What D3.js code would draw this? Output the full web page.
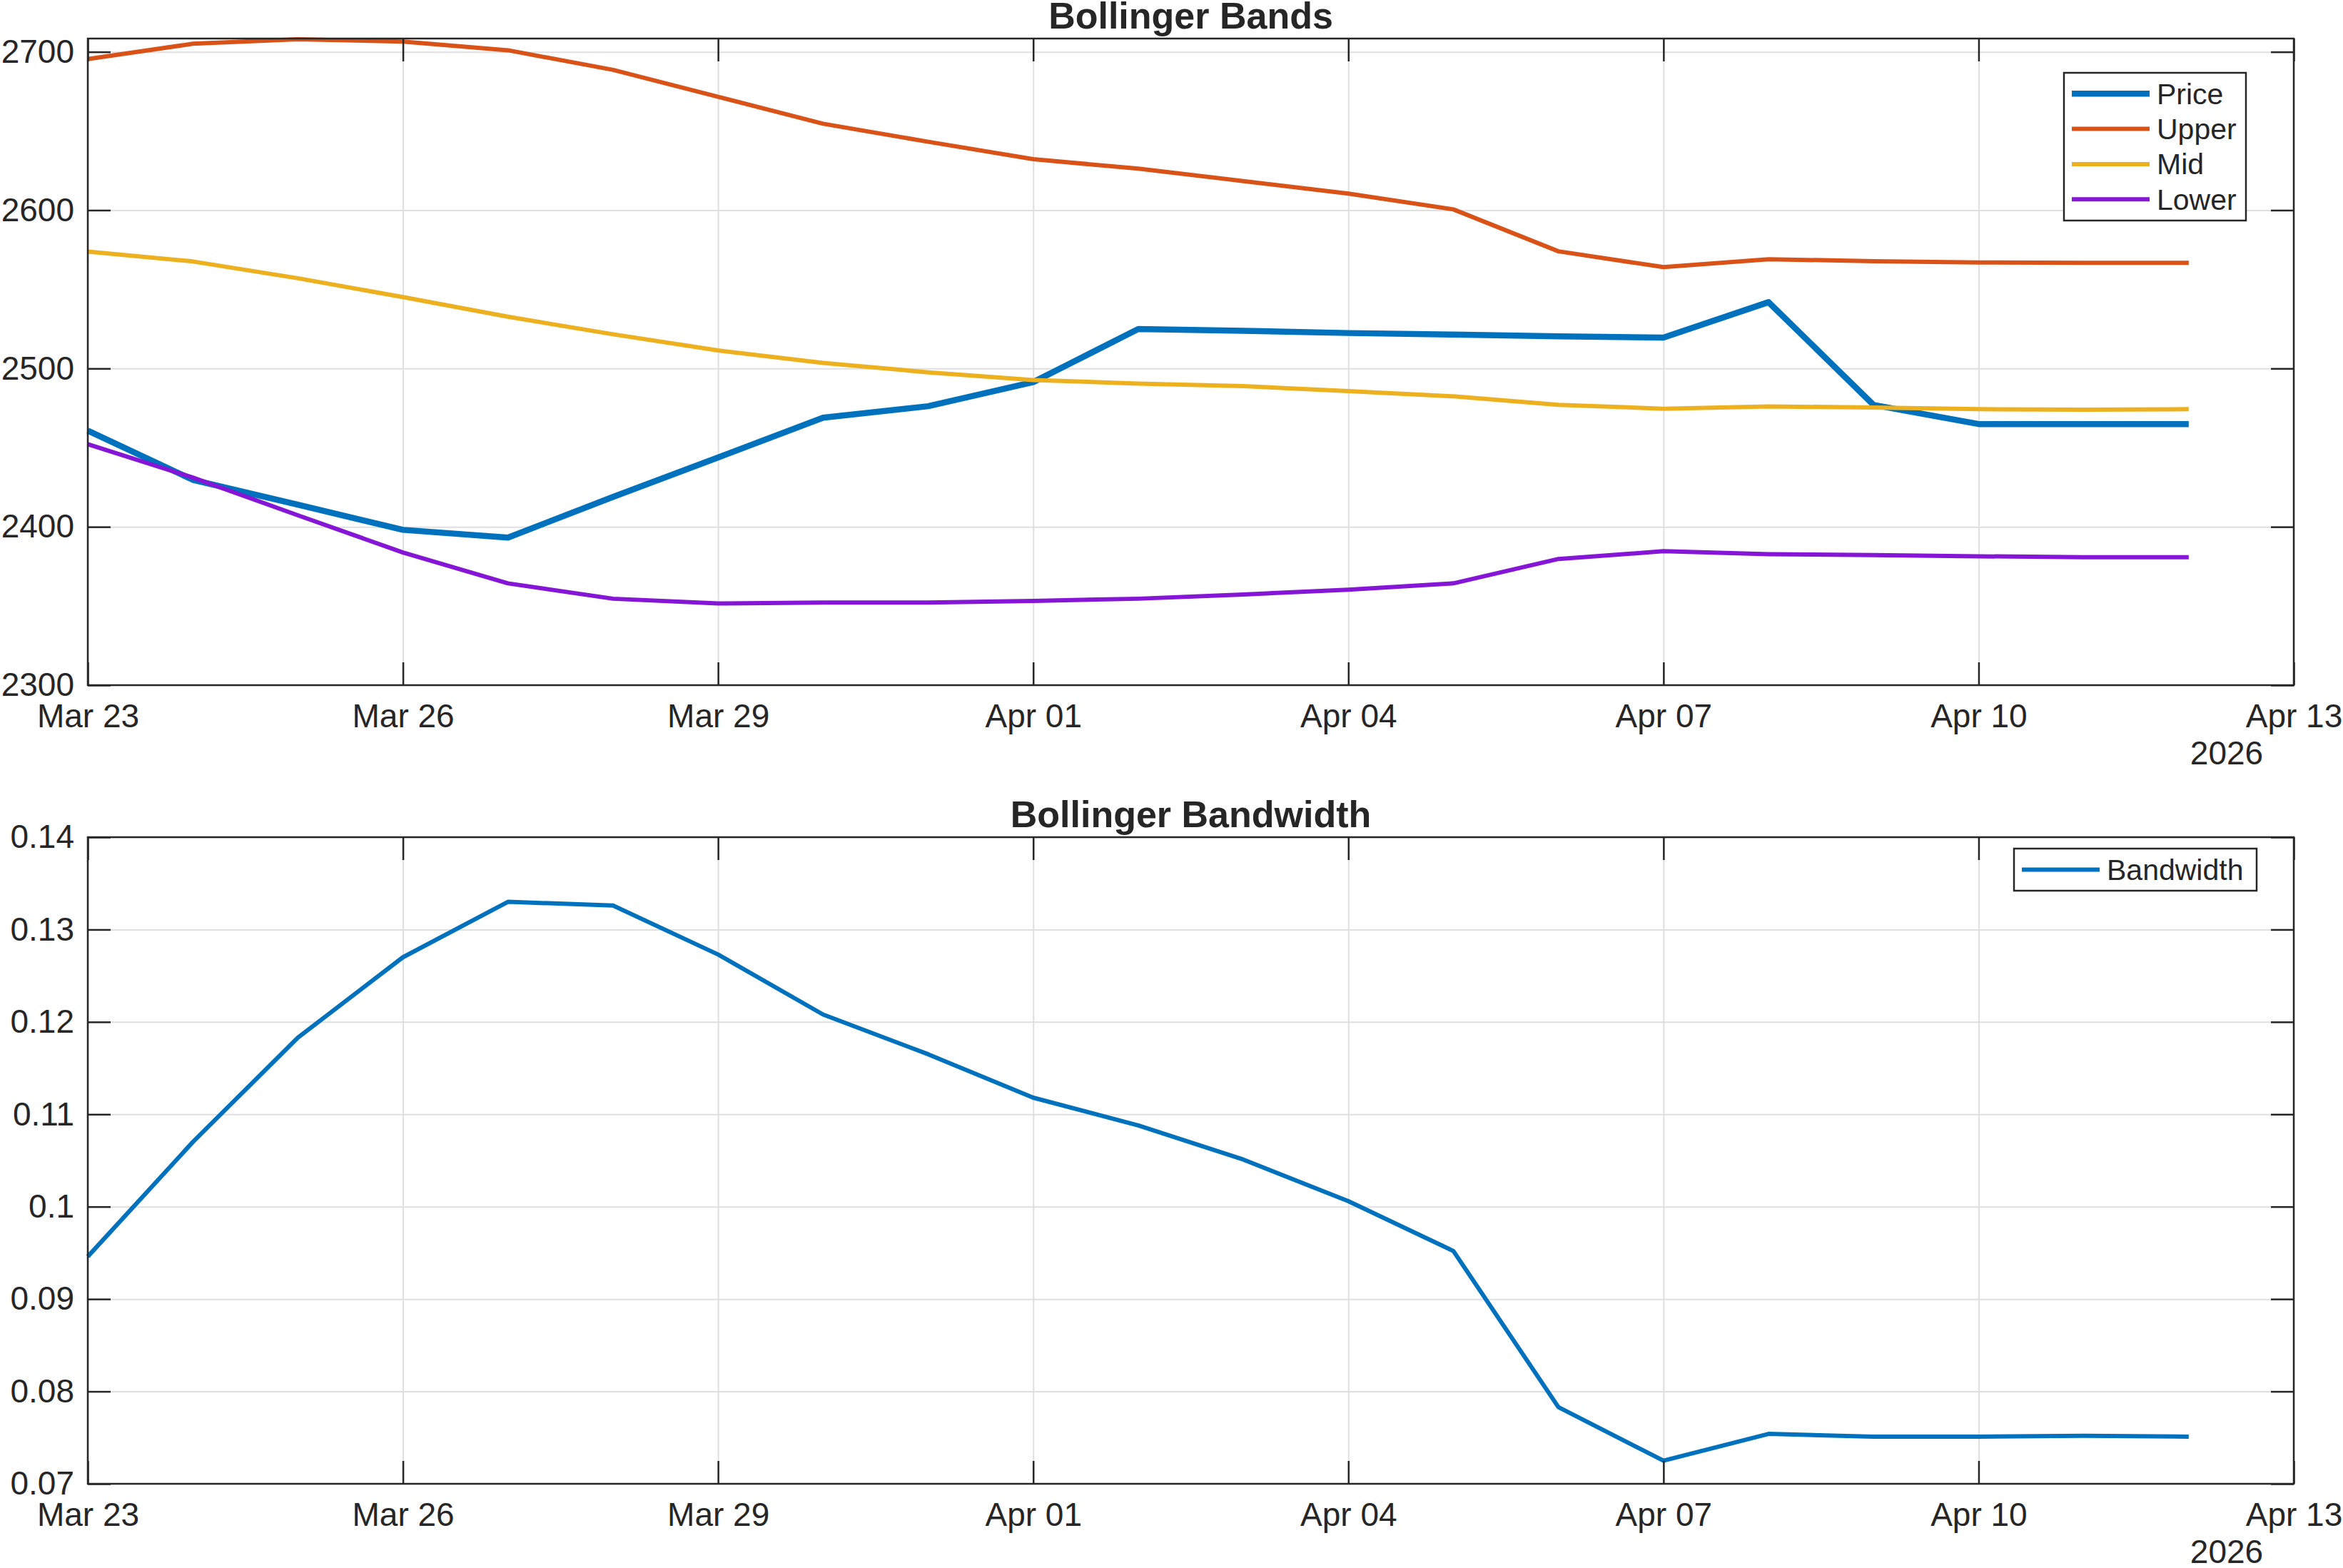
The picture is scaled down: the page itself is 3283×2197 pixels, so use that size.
<!DOCTYPE html>
<html>
<head>
<meta charset="utf-8">
<script src="https://cdn.jsdelivr.net/npm/d3@7"></script>
<style>
  body { margin: 0; background: #fff; }
  text { font-family: 'Liberation Sans', Arial, Helvetica, sans-serif; fill: #262626; }
</style>
</head>
<body>
<svg id="chart" width="3283" height="2197"></svg>
<script>
// daily closes, Mar 23 .. Apr 12 2026
const dates = [
    '2026-03-23', '2026-03-24', '2026-03-25', '2026-03-26', '2026-03-27', '2026-03-28', '2026-03-29',
    '2026-03-30', '2026-03-31', '2026-04-01', '2026-04-02', '2026-04-03', '2026-04-04', '2026-04-05',
    '2026-04-06', '2026-04-07', '2026-04-08', '2026-04-09', '2026-04-10', '2026-04-11', '2026-04-12'
]
const price = [
    2460.8, 2429.7, 2414.0, 2398.1, 2393.2, 2418.9, 2443.8,
    2468.9, 2476.2, 2491.4, 2524.9, 2523.8, 2522.4, 2521.4,
    2520.3, 2519.5, 2541.9, 2477.0, 2464.9, 2464.9, 2464.9
]
const upper = [
    2695.4, 2705.1, 2708.0, 2706.5, 2701.0, 2688.6, 2671.6,
    2654.6, 2643.2, 2632.2, 2626.2, 2618.4, 2610.5, 2600.5,
    2574.0, 2564.0, 2569.0, 2567.8, 2567.0, 2566.8, 2566.8
]
const mid = [
    2573.8, 2567.6, 2557.0, 2545.1, 2532.7, 2521.6, 2511.4,
    2503.5, 2497.6, 2492.7, 2490.5, 2488.9, 2485.7, 2482.4,
    2477.0, 2474.6, 2476.0, 2475.4, 2474.3, 2474.0, 2474.3
]
const lower = [
    2452.2, 2431.1, 2407.3, 2383.8, 2364.3, 2354.6, 2351.6,
    2352.2, 2352.2, 2353.2, 2354.6, 2357.3, 2360.3, 2364.3,
    2379.7, 2384.6, 2382.7, 2382.2, 2381.4, 2380.8, 2380.8
]
const bandwidth = [
    0.0946, 0.1070, 0.1183, 0.1270, 0.1330, 0.1326, 0.1273,
    0.1208, 0.1165, 0.1118, 0.1088, 0.1051, 0.1006, 0.0952,
    0.0783, 0.0725, 0.0754, 0.0751, 0.0751, 0.0752, 0.0751
]

const xTicks = ['2026-03-23', '2026-03-26', '2026-03-29', '2026-04-01', '2026-04-04', '2026-04-07', '2026-04-10', '2026-04-13']
const bandTicks = [2300, 2400, 2500, 2600, 2700]
const bandLimits = [2300, 2708.4]
const bwTicks = [0.07, 0.08, 0.09, 0.1, 0.11, 0.12, 0.13, 0.14]
const bwLimits = [0.07, 0.14]

const parse = d3.utcParse('%Y-%m-%d')
const days = dates.map(parse)

let svg = d3.select('#chart')
svg.append('rect').attr('width', 3283).attr('height', 2197).attr('fill', '#fff')

let left = 123, right = 3214
let x = d3.scaleUtc()
    .domain([parse(xTicks[0]), parse(xTicks[xTicks.length - 1])])
    .range([left, right])

function panel(top, bottom, yDomain, yTicks, title, series, legend) {
    let y = d3.scaleLinear().domain(yDomain).range([bottom, top])
    let g = svg.append('g')
    let h = bottom - top, w = right - left

    // grid
    g.append('g')
        .attr('transform', 'translate(0,' + bottom + ')')
        .call(d3.axisBottom(x).tickValues(xTicks.map(parse)).tickSize(-h).tickFormat(''))
        .call(a => a.select('.domain').remove())
        .selectAll('line').attr('stroke', '#dfdfdf').attr('stroke-width', 2)
    g.append('g')
        .attr('transform', 'translate(' + left + ',0)')
        .call(d3.axisLeft(y).tickValues(yTicks).tickSize(-w).tickFormat(''))
        .call(a => a.select('.domain').remove())
        .selectAll('line').attr('stroke', '#dfdfdf').attr('stroke-width', 2)

    // data lines
    series.forEach(s => {
        g.append('path')
            .datum(s.values)
            .attr('fill', 'none')
            .attr('stroke', s.color)
            .attr('stroke-width', s.width)
            .attr('stroke-linejoin', 'round')
            .attr('d', d3.line().x((d, i) => x(days[i])).y(d => y(d)))
    })

    // axes with inward ticks on all four sides
    g.append('g')
        .attr('class', 'axis')
        .attr('transform', 'translate(0,' + bottom + ')')
        .call(d3.axisBottom(x).tickValues(xTicks.map(parse)).tickSize(-32).tickPadding(26)
            .tickFormat(d3.utcFormat('%b %d')))
    g.append('g')
        .attr('class', 'axis')
        .attr('transform', 'translate(0,' + top + ')')
        .call(d3.axisTop(x).tickValues(xTicks.map(parse)).tickSize(-32).tickFormat(''))
    g.append('g')
        .attr('class', 'axis')
        .attr('transform', 'translate(' + left + ',0)')
        .call(d3.axisLeft(y).tickValues(yTicks).tickSize(-32).tickPadding(19)
            .tickFormat(d3.format('~g')))
    g.append('g')
        .attr('class', 'axis')
        .attr('transform', 'translate(' + right + ',0)')
        .call(d3.axisRight(y).tickValues(yTicks).tickSize(-32).tickFormat(''))

    g.selectAll('.axis .domain').remove()
    g.selectAll('.axis line').attr('stroke', '#262626').attr('stroke-width', 2.5)
    g.selectAll('.axis text')
        .attr('fill', '#262626')
        .style('font-size', '46px')
        .style('font-family', "'Liberation Sans', Arial, sans-serif")

    g.append('rect')
        .attr('x', left).attr('y', top)
        .attr('width', w).attr('height', h)
        .attr('fill', 'none')
        .attr('stroke', '#262626')
        .attr('stroke-width', 2.5)

    g.append('text')
        .attr('x', 3120)
        .attr('y', bottom + 111)
        .attr('text-anchor', 'middle')
        .style('font-size', '46px')
        .text('2026')

    g.append('text')
        .attr('x', (left + right) / 2)
        .attr('y', top - 14)
        .attr('text-anchor', 'middle')
        .style('font-size', '52px')
        .style('font-weight', 'bold')
        .text(title)

    // legend
    let lg = g.append('g').attr('class', 'legend')
    lg.append('rect')
        .attr('x', legend.x).attr('y', legend.y)
        .attr('width', legend.w).attr('height', legend.h)
        .attr('fill', '#fff')
        .attr('stroke', '#262626')
        .attr('stroke-width', 2.5)
    series.forEach((s, i) => {
        let cy = legend.y + legend.first + i * 49.3
        lg.append('line')
            .attr('x1', legend.x + 11).attr('x2', legend.x + 120)
            .attr('y1', cy).attr('y2', cy)
            .attr('stroke', s.color)
            .attr('stroke-width', s.width)
        lg.append('text')
            .attr('x', legend.x + 130)
            .attr('y', cy)
            .attr('dy', '0.35em')
            .style('font-size', '41px')
            .text(s.name)
    })
}

panel(54, 960, bandLimits, bandTicks, 'Bollinger Bands', [
    {name: 'Price', values: price, color: '#0072BD', width: 8.5},
    {name: 'Upper', values: upper, color: '#D95319', width: 6},
    {name: 'Mid', values: mid, color: '#EDB120', width: 6},
    {name: 'Lower', values: lower, color: '#8516D6', width: 6}
], {x: 2892, y: 102, w: 255, h: 207, first: 29.3})

panel(1173, 2079, bwLimits, bwTicks, 'Bollinger Bandwidth', [
    {name: 'Bandwidth', values: bandwidth, color: '#0072BD', width: 6}
], {x: 2822, y: 1189, w: 340, h: 59, first: 29.5})
</script>
</body>
</html>
